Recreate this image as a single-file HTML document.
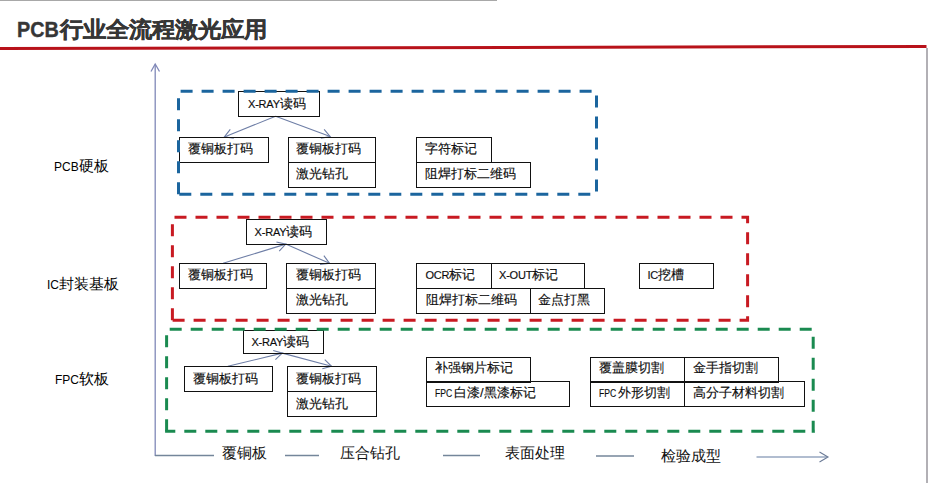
<!DOCTYPE html>
<html><head><meta charset="utf-8"><style>
html,body{margin:0;padding:0;background:#fff;}
body{width:928px;height:483px;position:relative;overflow:hidden;font-family:'Liberation Sans', sans-serif;}
.t{position:absolute;white-space:nowrap;color:#000;-webkit-text-stroke:0.15px #000;}
.l{font-size:11px;letter-spacing:-0.2px;}
.f{display:inline-block;font-size:10px;width:19px;transform:scaleX(0.86);transform-origin:0 0;}
#top{position:absolute;left:0;top:0;width:497px;height:1px;background:#a8a8a8;}
#rb{position:absolute;left:926px;top:48px;width:2px;height:435px;background:#b2b0b5;}
#title{position:absolute;left:17px;top:18.6px;font-size:23px;line-height:23px;font-weight:bold;color:#363636;white-space:nowrap;-webkit-text-stroke:0.4px #363636;transform:scaleY(0.94);transform-origin:0 0;}
#title span{display:inline-block;width:43px;transform:scaleX(0.86);transform-origin:0 0;}
svg{position:absolute;left:0;top:0;}
</style></head><body>
<div id="top"></div>
<div id="title"><span>PCB</span>行业全流程激光应用</div>
<div id="rb"></div>
<svg width="928" height="483" viewBox="0 0 928 483">
<path d="M275.6 116.3L224.4 136.9" stroke="#6e7ea6" stroke-width="1.1" fill="none"/>
<path d="M230.26 129.42L224.4 136.9L233.81 138.24" stroke="#6e7ea6" stroke-width="1.1" fill="none"/>
<path d="M275.6 116.3L330.2 136.6" stroke="#6e7ea6" stroke-width="1.1" fill="none"/>
<path d="M320.83 138.19L330.2 136.6L324.14 129.28" stroke="#6e7ea6" stroke-width="1.1" fill="none"/>
<path d="M223.1 263.3L285.7 244.1" stroke="#6e7ea6" stroke-width="1.1" fill="none"/>
<path d="M279.23 251.05L285.7 244.1L276.44 241.97" stroke="#6e7ea6" stroke-width="1.1" fill="none"/>
<path d="M285.7 244.1L329.5 263.3" stroke="#6e7ea6" stroke-width="1.1" fill="none"/>
<path d="M320.06 264.35L329.5 263.3L323.87 255.65" stroke="#6e7ea6" stroke-width="1.1" fill="none"/>
<path d="M227.8 366.3L282.3 353.1" stroke="#6e7ea6" stroke-width="1.1" fill="none"/>
<path d="M275.42 359.65L282.3 353.1L273.19 350.42" stroke="#6e7ea6" stroke-width="1.1" fill="none"/>
<path d="M282.3 353.1L331.5 366.3" stroke="#6e7ea6" stroke-width="1.1" fill="none"/>
<path d="M322.32 368.76L331.5 366.3L324.78 359.58" stroke="#6e7ea6" stroke-width="1.1" fill="none"/>
<rect x="238.5" y="91.5" width="81" height="25" fill="none" stroke="#111" stroke-width="1"/>
<rect x="179.5" y="137.5" width="89" height="25" fill="none" stroke="#111" stroke-width="1"/>
<rect x="288.5" y="137.5" width="87" height="25" fill="none" stroke="#111" stroke-width="1"/>
<rect x="288.5" y="162.5" width="87" height="25" fill="none" stroke="#111" stroke-width="1"/>
<rect x="416.5" y="137.5" width="75" height="25" fill="none" stroke="#111" stroke-width="1"/>
<rect x="416.5" y="162.5" width="114" height="25" fill="none" stroke="#111" stroke-width="1"/>
<rect x="246.5" y="219.5" width="80" height="25" fill="none" stroke="#111" stroke-width="1"/>
<rect x="179.5" y="263.5" width="87" height="25" fill="none" stroke="#111" stroke-width="1"/>
<rect x="286.5" y="263.5" width="89" height="25" fill="none" stroke="#111" stroke-width="1"/>
<rect x="286.5" y="288.5" width="89" height="25" fill="none" stroke="#111" stroke-width="1"/>
<rect x="416.5" y="263.5" width="75" height="25" fill="none" stroke="#111" stroke-width="1"/>
<rect x="491.5" y="263.5" width="93" height="25" fill="none" stroke="#111" stroke-width="1"/>
<rect x="416.5" y="288.5" width="114" height="25" fill="none" stroke="#111" stroke-width="1"/>
<rect x="530.5" y="288.5" width="74" height="25" fill="none" stroke="#111" stroke-width="1"/>
<rect x="639.5" y="263.5" width="74" height="25" fill="none" stroke="#111" stroke-width="1"/>
<rect x="243.5" y="330.5" width="80" height="23" fill="none" stroke="#111" stroke-width="1"/>
<rect x="184.5" y="366.5" width="88" height="25" fill="none" stroke="#111" stroke-width="1"/>
<rect x="287.5" y="366.5" width="89" height="25" fill="none" stroke="#111" stroke-width="1"/>
<rect x="287.5" y="391.5" width="89" height="25" fill="none" stroke="#111" stroke-width="1"/>
<rect x="426.5" y="357.5" width="104" height="24" fill="none" stroke="#111" stroke-width="1"/>
<rect x="426.5" y="381.5" width="143" height="25" fill="none" stroke="#111" stroke-width="1"/>
<path d="M426 382.5H531" stroke="#111" stroke-width="1"/>
<rect x="590.5" y="357.5" width="94" height="24" fill="none" stroke="#111" stroke-width="1"/>
<rect x="684.5" y="357.5" width="94" height="24" fill="none" stroke="#111" stroke-width="1"/>
<path d="M590 382.5H779" stroke="#111" stroke-width="1"/>
<rect x="590.5" y="381.5" width="94" height="25" fill="none" stroke="#111" stroke-width="1"/>
<rect x="684.5" y="381.5" width="120" height="25" fill="none" stroke="#111" stroke-width="1"/>
<path d="M178.5 194.2L178.5 91.3L596.5 91.3L596.5 194.2Z" fill="none" stroke="#1b659e" stroke-width="3" stroke-dasharray="12 9"/>
<path d="M172.4 320.2L172.4 217.3L747.6 217.3L747.6 320.2Z" fill="none" stroke="#c81a22" stroke-width="3" stroke-dasharray="12 9"/>
<path d="M166.6 431.2L166.6 329.3L813.2 329.3L813.2 432.7" fill="none" stroke="#1a8a50" stroke-width="3" stroke-dasharray="12 9"/>
<path d="M165.1 431.2L814.7 431.2" fill="none" stroke="#1a8a50" stroke-width="3" stroke-dasharray="12 9" stroke-dashoffset="1.7999999999999998"/>
<path d="M0 48.6L926.5 46.5" stroke="#b8121a" stroke-width="3"/>
<path d="M155.2 456V64.5" stroke="#8088b8" stroke-width="1.3" fill="none"/>
<path d="M151 71.5L155.2 64L159.5 71.5" stroke="#8088b8" stroke-width="1.3" fill="none"/>
<path d="M155 455.5H214" stroke="#74869a" stroke-width="1.3"/>
<path d="M285 455.5H319" stroke="#74869a" stroke-width="1.3"/>
<path d="M443 455.5H480" stroke="#74869a" stroke-width="1.3"/>
<path d="M596 456H634" stroke="#74869a" stroke-width="1.3"/>
<path d="M756.5 457H827" stroke="#97a7c0" stroke-width="1.7"/>
<path d="M819.5 452L828 457L819.5 462" stroke="#6a7a96" stroke-width="1.1" fill="none"/>
</svg>
<div class="t" style="left:248px;top:96.5px;font-size:13px;line-height:13px;color:#111;"><span class="l">X-RAY</span>读码</div>
<div class="t" style="left:187.6px;top:141.6px;font-size:13px;line-height:13px;color:#111;">覆铜板打码</div>
<div class="t" style="left:295.8px;top:141.6px;font-size:13px;line-height:13px;color:#111;">覆铜板打码</div>
<div class="t" style="left:295.8px;top:166.6px;font-size:13px;line-height:13px;color:#111;">激光钻孔</div>
<div class="t" style="left:425.2px;top:141.6px;font-size:13px;line-height:13px;color:#111;">字符标记</div>
<div class="t" style="left:425.2px;top:166.6px;font-size:13px;line-height:13px;color:#111;">阻焊打标二维码</div>
<div class="t" style="left:254.6px;top:224.5px;font-size:13px;line-height:13px;color:#111;"><span class="l">X-RAY</span>读码</div>
<div class="t" style="left:188px;top:267.6px;font-size:13px;line-height:13px;color:#111;">覆铜板打码</div>
<div class="t" style="left:295.8px;top:267.6px;font-size:13px;line-height:13px;color:#111;">覆铜板打码</div>
<div class="t" style="left:295.8px;top:292.6px;font-size:13px;line-height:13px;color:#111;">激光钻孔</div>
<div class="t" style="left:425.5px;top:267.6px;font-size:13px;line-height:13px;color:#111;"><span class="l">OCR</span>标记</div>
<div class="t" style="left:499px;top:267.6px;font-size:13px;line-height:13px;color:#111;"><span class="l">X-OUT</span>标记</div>
<div class="t" style="left:426px;top:292.6px;font-size:13px;line-height:13px;color:#111;">阻焊打标二维码</div>
<div class="t" style="left:538.4px;top:292.6px;font-size:13px;line-height:13px;color:#111;">金点打黑</div>
<div class="t" style="left:647.5px;top:267.6px;font-size:13px;line-height:13px;color:#111;"><span class="l">IC</span>挖槽</div>
<div class="t" style="left:251.4px;top:334.5px;font-size:13px;line-height:13px;color:#111;"><span class="l">X-RAY</span>读码</div>
<div class="t" style="left:192.9px;top:371.6px;font-size:13px;line-height:13px;color:#111;">覆铜板打码</div>
<div class="t" style="left:295.8px;top:371.6px;font-size:13px;line-height:13px;color:#111;">覆铜板打码</div>
<div class="t" style="left:295.8px;top:396.6px;font-size:13px;line-height:13px;color:#111;">激光钻孔</div>
<div class="t" style="left:435px;top:361.3px;font-size:13px;line-height:13px;color:#111;">补强钢片标记</div>
<div class="t" style="left:435px;top:386px;font-size:13px;line-height:13px;color:#111;"><span class="f">FPC</span>白漆/黑漆标记</div>
<div class="t" style="left:599px;top:361.4px;font-size:13px;line-height:13px;color:#111;">覆盖膜切割</div>
<div class="t" style="left:692.8px;top:361.4px;font-size:13px;line-height:13px;color:#111;">金手指切割</div>
<div class="t" style="left:599px;top:386px;font-size:13px;line-height:13px;color:#111;"><span class="f">FPC</span>外形切割</div>
<div class="t" style="left:692.8px;top:386px;font-size:13px;line-height:13px;color:#111;">高分子材料切割</div>
<div class="t" style="left:221.5px;top:445px;font-size:15.3px;line-height:15.3px;color:#111;-webkit-text-stroke:0;">覆铜板</div>
<div class="t" style="left:340px;top:445.3px;font-size:15.3px;line-height:15.3px;color:#111;-webkit-text-stroke:0;">压合钻孔</div>
<div class="t" style="left:505.3px;top:445.3px;font-size:15.3px;line-height:15.3px;color:#111;-webkit-text-stroke:0;">表面处理</div>
<div class="t" style="left:660.7px;top:447.6px;font-size:15.3px;line-height:15.3px;color:#111;-webkit-text-stroke:0;">检验成型</div>
<div class="t" style="left:54px;top:158.5px;font-size:14.5px;line-height:14.5px;-webkit-text-stroke:0;"><span style="font-size:12px">PCB</span>硬板</div>
<div class="t" style="left:47px;top:276.5px;font-size:14.5px;line-height:14.5px;-webkit-text-stroke:0;"><span style="font-size:12px">IC</span>封装基板</div>
<div class="t" style="left:55px;top:371.8px;font-size:14.5px;line-height:14.5px;-webkit-text-stroke:0;"><span style="font-size:12px">FPC</span>软板</div>
</body></html>
